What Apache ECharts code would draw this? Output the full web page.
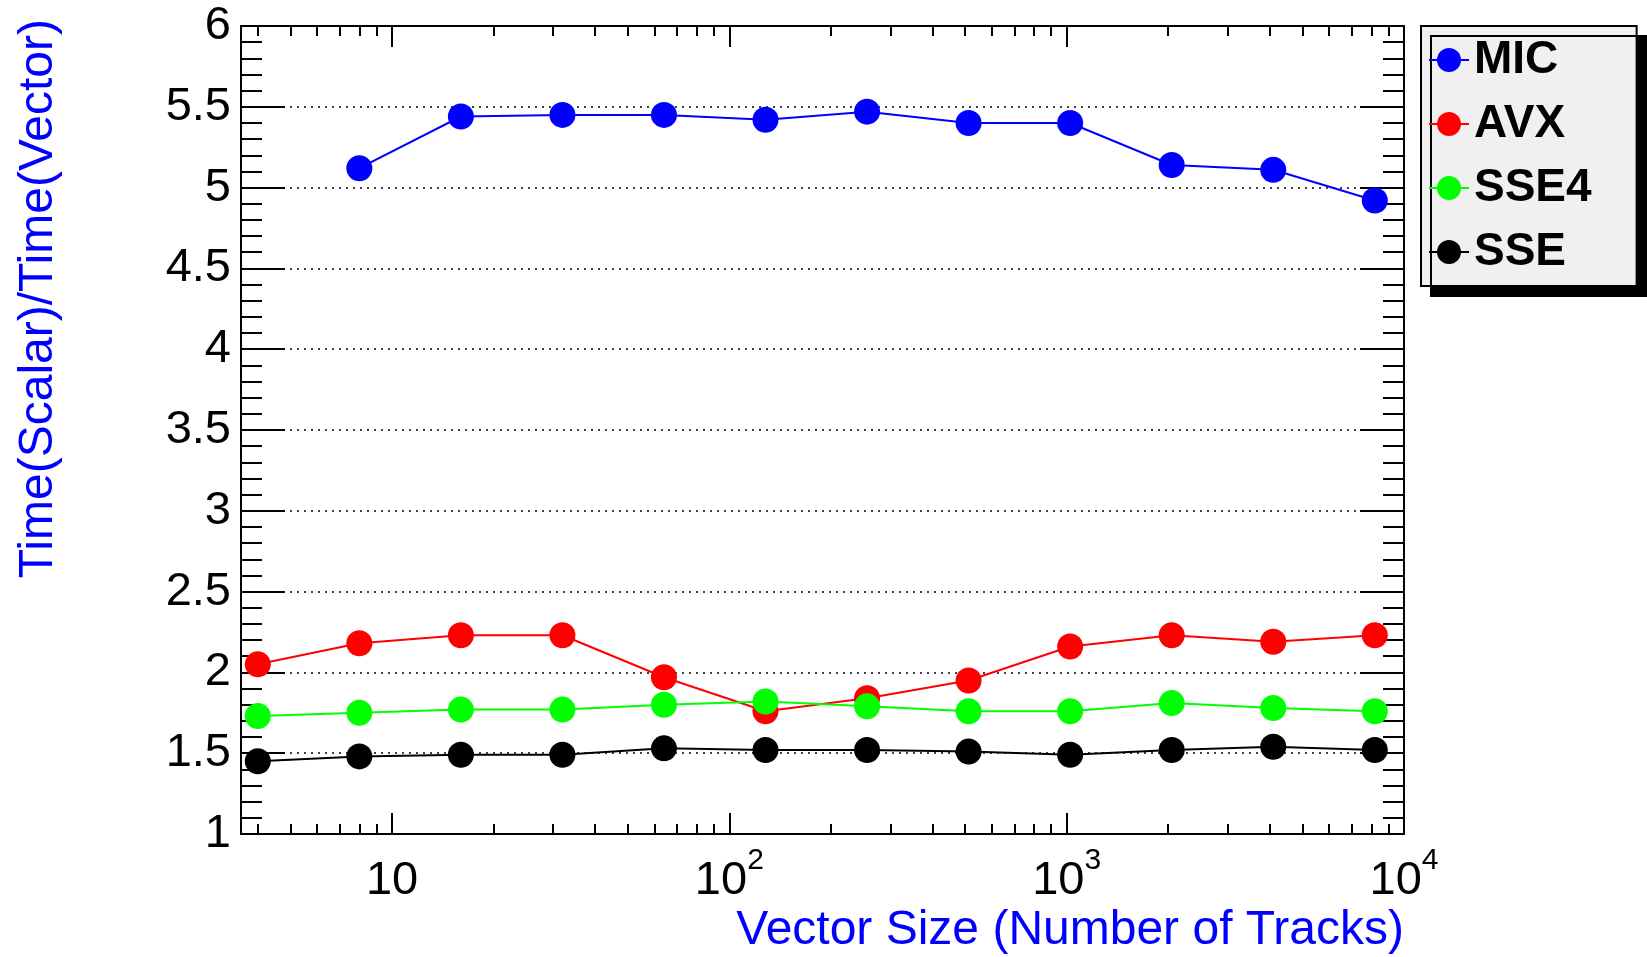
<!DOCTYPE html>
<html>
<head>
<meta charset="utf-8">
<script src="https://cdn.jsdelivr.net/npm/echarts@6/dist/echarts.min.js"></script>
<style>
html,body{margin:0;padding:0;background:#fff;}
#chart{width:1647px;height:957px;}
</style>
</head>
<body>
<div id="chart"></div>
<script>
// ---- data ----
const vectorSizes = [4, 8, 16, 32, 64, 128, 256, 512, 1024, 2048, 4096, 8192];
const seriesNames = ['MIC', 'AVX', 'SSE4', 'SSE'];
const micValues  = [null, 5.12, 5.44, 5.45, 5.45, 5.42, 5.47, 5.40, 5.40, 5.14, 5.11, 4.92];
const avxValues  = [2.05, 2.18, 2.23, 2.23, 1.97, 1.76, 1.84, 1.95, 2.16, 2.23, 2.19, 2.23];
const sse4Values = [1.73, 1.75, 1.77, 1.77, 1.80, 1.82, 1.79, 1.76, 1.76, 1.81, 1.78, 1.76];
const sseValues  = [1.45, 1.48, 1.49, 1.49, 1.53, 1.52, 1.52, 1.51, 1.49, 1.52, 1.54, 1.52];
const xMajorTicks = [10, 100, 1000, 10000];
const xMinorTicks = [4, 5, 6, 7, 8, 9, 20, 30, 40, 50, 60, 70, 80, 90,
                     200, 300, 400, 500, 600, 700, 800, 900,
                     2000, 3000, 4000, 5000, 6000, 7000, 8000, 9000];
const xTickLabels = {10: '{b|10}', 100: '{b|10}{sup|2}', 1000: '{b|10}{sup|3}', 10000: '{b|10}{sup|4}'};
const yTitle = 'Time(Scalar)/Time(Vector)';
const xTitle = 'Vector Size (Number of Tracks)';

const colors = ['#0000ff', '#ff0000', '#00ff00', '#000000'];
const allValues = [micValues, avxValues, sse4Values, sseValues];
const FONT = "'Liberation Sans', Arial, Helvetica, sans-serif";
const X_MIN = 3.567, X_MAX = 10000;

function pairs(vals) {
  const out = [];
  vals.forEach((v, i) => { if (v !== null) out.push([vectorSizes[i], v]); });
  return out;
}

const black = {color: '#000', width: 2};

function xAxisBase(position, ticks, len, showLine, showLabel) {
  return {
    type: 'log', logBase: 10, min: X_MIN, max: X_MAX, position: position,
    axisLine: {show: showLine, onZero: false, lineStyle: black},
    axisTick: {show: true, inside: true, length: len, customValues: ticks, lineStyle: black},
    minorTick: {show: false},
    splitLine: {show: false},
    axisLabel: showLabel ? {
      show: true, customValues: xMajorTicks, margin: 12,
      formatter: v => xTickLabels[Math.round(v)] || String(v),
      rich: {
        b: {fontSize: 47, fontFamily: FONT, color: '#000', verticalAlign: 'bottom', padding: [12, 0, 0, 0]},
        sup: {fontSize: 30, fontFamily: FONT, color: '#000', verticalAlign: 'top'}
      }
    } : {show: false}
  };
}

function yAxisBase(position, showLabel, showSplit) {
  return {
    type: 'value', min: 1, max: 6, interval: 0.5, position: position,
    axisLine: {show: true, onZero: false, lineStyle: black},
    axisTick: {show: true, inside: true, length: 44, lineStyle: black},
    minorTick: {show: true, splitNumber: 5, length: 21, lineStyle: black},
    splitLine: {show: showSplit, lineStyle: {color: '#000', width: 1.5, type: [2, 5]}},
    axisLabel: showLabel ? {show: true, fontSize: 47, fontFamily: FONT, color: '#000', margin: 10} : {show: false}
  };
}

const chart = echarts.init(document.getElementById('chart'), null, {renderer: 'canvas'});
chart.setOption({
  animation: false,
  backgroundColor: '#fff',
  grid: {left: 241, top: 26, right: 243, bottom: 123, containLabel: false},
  xAxis: [
    xAxisBase('bottom', xMajorTicks, 21, true, true),
    xAxisBase('bottom', xMinorTicks, 10, false, false),
    xAxisBase('top', xMajorTicks, 21, true, false),
    xAxisBase('top', xMinorTicks, 10, false, false)
  ],
  yAxis: [
    yAxisBase('left', true, true),
    yAxisBase('right', false, false)
  ],
  legend: {
    show: true, orient: 'vertical', left: 1421, top: 26,
    data: seriesNames, selectedMode: false,
    backgroundColor: '#f0f0f0', borderColor: '#000', borderWidth: 2, borderRadius: 0,
    padding: [11, 45, 11, 7], itemGap: 18, itemWidth: 40, itemHeight: 30,
    textStyle: {fontSize: 46, fontWeight: 'bold', color: '#000', fontFamily: FONT},
    shadowColor: '#000', shadowOffsetX: 10, shadowOffsetY: 10, shadowBlur: 0
  },
  graphic: [
    {type: 'text', x: 39, y: 19, rotation: Math.PI / 2,
     style: {text: yTitle, fontSize: 48, fontFamily: FONT, fill: '#0000ff', align: 'right', verticalAlign: 'middle'}},
    {type: 'text', x: 1404, y: 931,
     style: {text: xTitle, fontSize: 48, fontFamily: FONT, fill: '#0000ff', align: 'right', verticalAlign: 'middle'}}
  ],
  series: seriesNames.map((name, i) => ({
    name: name, type: 'line', xAxisIndex: 0, yAxisIndex: 0,
    data: pairs(allValues[i]),
    symbol: 'circle', symbolSize: 26, showSymbol: true,
    lineStyle: {color: colors[i], width: 2},
    itemStyle: {color: colors[i]},
    emphasis: {disabled: true},
    z: 3 + i
  }))
});
</script>
</body>
</html>
